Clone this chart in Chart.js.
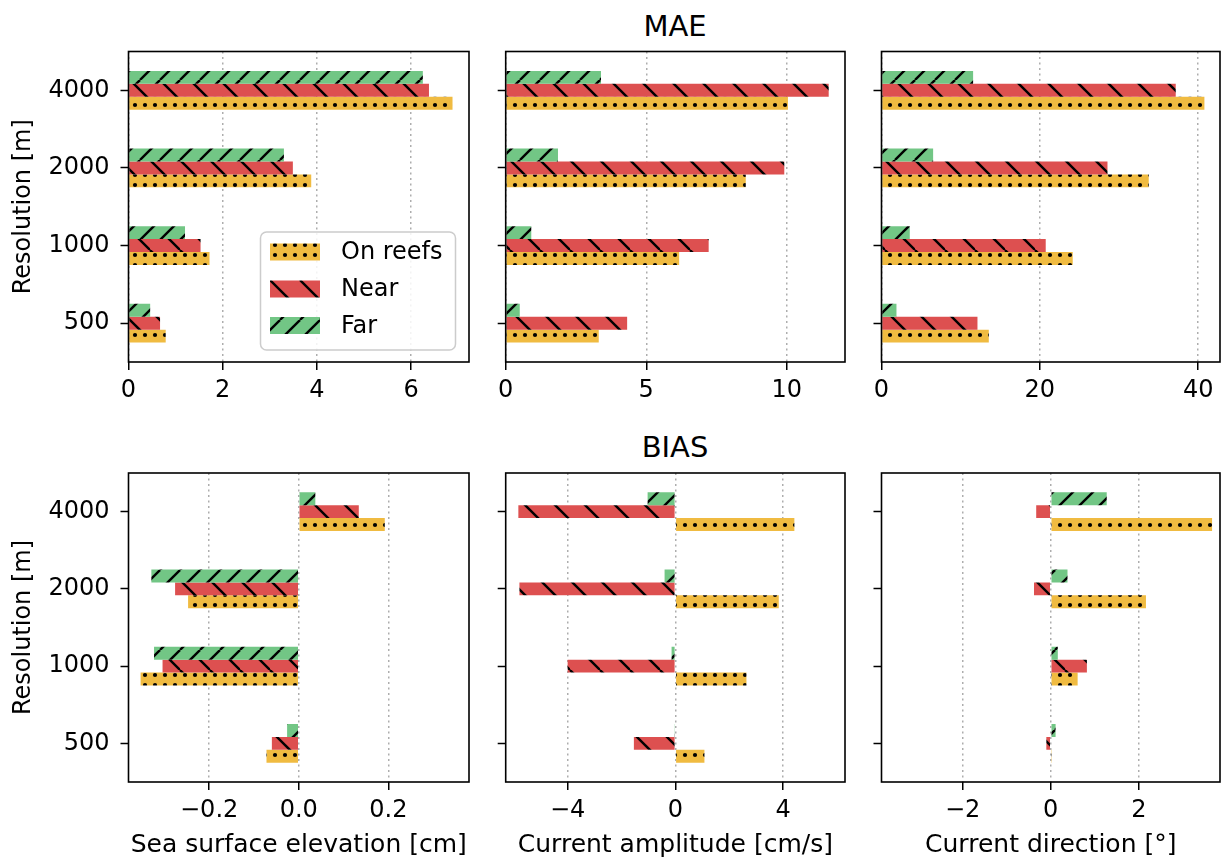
<!DOCTYPE html>
<html><head><meta charset="utf-8">
<script src="https://cdn.jsdelivr.net/npm/chart.js@4.4.1/dist/chart.umd.min.js"></script>
<style>
html,body{margin:0;padding:0;background:#fff;}
body{width:1222px;height:861px;position:relative;overflow:hidden;font-family:"DejaVu Sans",sans-serif;}
canvas{position:absolute;}
.ttl{position:absolute;font-family:"DejaVu Sans",sans-serif;font-size:29px;line-height:29px;color:#000;width:200px;text-align:center;}
</style></head><body>
<div class="ttl" style="left:575px;top:11.5px">MAE</div>
<div class="ttl" style="left:575px;top:432.5px">BIAS</div>
<canvas id="c0" width="480" height="380" style="left:0;top:40px"></canvas>
<canvas id="c1" width="375" height="380" style="left:480px;top:40px"></canvas>
<canvas id="c2" width="367" height="380" style="left:855px;top:40px"></canvas>
<canvas id="c3" width="480" height="431" style="left:0;top:430px"></canvas>
<canvas id="c4" width="375" height="431" style="left:480px;top:430px"></canvas>
<canvas id="c5" width="367" height="431" style="left:855px;top:430px"></canvas>
<script>
// ---- data ----
const categories = ['4000', '2000', '1000', '500'];
const seriesNames = ['On reefs', 'Near', 'Far'];

const maeSseOn   = [6.88, 3.88, 1.72, 0.79];
const maeSseNear = [6.38, 3.49, 1.53, 0.67];
const maeSseFar  = [6.25, 3.30, 1.20, 0.46];

const maeAmpOn   = [10.04, 8.54, 6.17, 3.31];
const maeAmpNear = [11.49, 9.91, 7.22, 4.32];
const maeAmpFar  = [3.39, 1.86, 0.91, 0.50];

const maeDirOn   = [40.78, 33.75, 24.15, 13.55];
const maeDirNear = [37.16, 28.54, 20.74, 12.12];
const maeDirFar  = [11.57, 6.52, 3.57, 1.89];

const biasSseOn   = [0.192, -0.247, -0.353, -0.072];
const biasSseNear = [0.134, -0.276, -0.304, -0.060];
const biasSseFar  = [0.037, -0.329, -0.323, -0.026];

const biasAmpOn   = [4.42, 3.84, 2.64, 1.08];
const biasAmpNear = [-5.83, -5.79, -4.00, -1.54];
const biasAmpFar  = [-1.03, -0.40, -0.14, -0.02];

const biasDirOn   = [3.66, 2.16, 0.61, 0.01];
const biasDirNear = [-0.33, -0.38, 0.82, -0.10];
const biasDirFar  = [1.27, 0.38, 0.16, 0.11];

const ticksMaeSse = [0, 2, 4, 6];
const ticksMaeAmp = [0, 5, 10];
const ticksMaeDir = [0, 20, 40];
const ticksBiasSse = [-0.2, 0, 0.2];
const ticksBiasAmp = [-4, 0, 4];
const ticksBiasDir = [-2, 0, 2];

const xTitles = ['Sea surface elevation [cm]', 'Current amplitude [cm/s]', 'Current direction [°]'];
const yTitle = 'Resolution [m]';

// ---- styles ----
const FONT = '"DejaVu Sans", sans-serif';
const YELLOW = '#f0bb41', RED = '#dd5050', GREEN = '#72c685';

function makePattern(kind, color) {
  const c = document.createElement('canvas');
  const s = kind === 'dots' ? 10 : (kind === 'back' ? 30 : 20);
  c.width = s; c.height = s;
  const g = c.getContext('2d');
  g.fillStyle = color; g.fillRect(0, 0, s, s);
  g.fillStyle = '#000'; g.strokeStyle = '#000'; g.lineWidth = 2.4;
  if (kind === 'dots') {
    g.beginPath(); g.arc(5, 5, 2.1, 0, Math.PI * 2); g.fill();
  } else if (kind === 'back') {
    for (let k = -1; k <= 1; k++) { g.beginPath(); g.moveTo(k * s, 0); g.lineTo(k * s + s, s); g.stroke(); }
  } else {
    for (let k = -1; k <= 1; k++) { g.beginPath(); g.moveTo(k * s, s); g.lineTo(k * s + s, 0); g.stroke(); }
  }
  return g.createPattern(c, 'repeat');
}
const patOn = makePattern('dots', YELLOW);
const patNear = makePattern('back', RED);
const patFar = makePattern('fwd', GREEN);

const spines = {
  id: 'spines',
  afterDraw(chart) {
    const { ctx, chartArea: a } = chart;
    ctx.save(); ctx.strokeStyle = '#000'; ctx.lineWidth = 1.6;
    ctx.strokeRect(a.left, a.top, a.right - a.left, a.bottom - a.top);
    ctx.restore();
  }
};

const legendBox = {
  id: 'legendBox',
  afterDraw(chart) {
    const ctx = chart.ctx;
    const x0 = 260.5, y0 = 192, w = 195, h = 118, r = 6;
    ctx.save();
    ctx.beginPath();
    ctx.moveTo(x0 + r, y0); ctx.lineTo(x0 + w - r, y0); ctx.arcTo(x0 + w, y0, x0 + w, y0 + r, r);
    ctx.lineTo(x0 + w, y0 + h - r); ctx.arcTo(x0 + w, y0 + h, x0 + w - r, y0 + h, r);
    ctx.lineTo(x0 + r, y0 + h); ctx.arcTo(x0, y0 + h, x0, y0 + h - r, r);
    ctx.lineTo(x0, y0 + r); ctx.arcTo(x0, y0, x0 + r, y0, r); ctx.closePath();
    ctx.fillStyle = 'rgba(255,255,255,0.85)'; ctx.fill();
    ctx.strokeStyle = '#cccccc'; ctx.lineWidth = 1.5; ctx.stroke();
    const pats = [patOn, patNear, patFar];
    const ys = [212, 249, 285.5];
    ctx.font = '24px ' + FONT; ctx.textBaseline = 'middle'; ctx.fillStyle = '#000';
    for (let i = 0; i < 3; i++) {
      ctx.fillStyle = pats[i];
      ctx.fillRect(270, ys[i] - 8.5, 50, 17);
      ctx.fillStyle = '#000';
      ctx.fillText(seriesNames[i], 341, ys[i] + 1);
    }
    ctx.restore();
  }
};

function fmt(dec) {
  return v => (v < 0 ? '\u2212' : '') + Math.abs(v).toFixed(dec);
}

function makeChart(id, on, near, far, xmin, xmax, tickVals, dec, opts) {
  const ctx = document.getElementById(id).getContext('2d');
  const plugins = [spines];
  if (opts.legend) plugins.push(legendBox);
  return new Chart(ctx, {
    type: 'bar',
    data: {
      labels: categories,
      datasets: [
        { label: seriesNames[2], data: far, backgroundColor: patFar },
        { label: seriesNames[1], data: near, backgroundColor: patNear },
        { label: seriesNames[0], data: on, backgroundColor: patOn }
      ]
    },
    options: {
      indexAxis: 'y',
      responsive: false,
      animation: false,
      devicePixelRatio: 1,
      datasets: { bar: { categoryPercentage: 0.5, barPercentage: 1.0, borderWidth: 0 } },
      layout: { padding: { top: opts.padTop, right: opts.padRight, left: 0, bottom: 0 } },
      plugins: { legend: { display: false }, tooltip: { enabled: false }, title: { display: false } },
      scales: {
        x: {
          type: 'linear', min: xmin, max: xmax,
          afterBuildTicks: s => { s.ticks = tickVals.map(v => ({ value: v })); },
          afterFit: s => { s.height = opts.xHeight; s.paddingLeft = 0; s.paddingRight = 0; },
          grid: { color: '#adadad', lineWidth: 1.5, drawTicks: true, tickLength: 8, tickColor: '#000', tickWidth: 1.5 },
          border: { display: false, dash: [2, 3.5] },
          ticks: { font: { family: FONT, size: 24 }, color: '#000', padding: 6, maxRotation: 0, autoSkip: false, callback: fmt(dec) },
          title: { display: !!opts.xTitle, text: opts.xTitle || '', font: { family: FONT, size: 25 }, color: '#000', padding: { top: 0, bottom: 1 } }
        },
        y: {
          type: 'category',
          afterFit: s => { s.width = opts.yWidth; s.paddingTop = 0; s.paddingBottom = 0; },
          grid: { drawOnChartArea: false, drawTicks: true, tickLength: 8, tickColor: '#000', tickWidth: 1.5, offset: false },
          border: { display: false },
          ticks: { display: !!opts.yLabels, font: { family: FONT, size: 24 }, color: '#000', padding: 11 },
          title: { display: !!opts.yLabels, text: yTitle, font: { family: FONT, size: 24 }, color: '#000', padding: { top: 9.5, bottom: 0 } }
        }
      }
    },
    plugins: plugins
  });
}

const rowTop = { padTop: 11.5, xHeight: 58 };
const rowBot = { padTop: 43, xHeight: 79 };
const colA = { yWidth: 128.5, padRight: 11, yLabels: true };
const colB = { yWidth: 25.7, padRight: 10 };
const colC = { yWidth: 26.5, padRight: 2 };

makeChart('c0', maeSseOn, maeSseNear, maeSseFar, 0, 7.23, ticksMaeSse, 0, Object.assign({}, rowTop, colA, { legend: true }));
makeChart('c1', maeAmpOn, maeAmpNear, maeAmpFar, 0, 12.07, ticksMaeAmp, 0, Object.assign({}, rowTop, colB));
makeChart('c2', maeDirOn, maeDirNear, maeDirFar, 0, 42.75, ticksMaeDir, 0, Object.assign({}, rowTop, colC));
makeChart('c3', biasSseOn, biasSseNear, biasSseFar, -0.38, 0.38, ticksBiasSse, 1, Object.assign({}, rowBot, colA, { xTitle: xTitles[0] }));
makeChart('c4', biasAmpOn, biasAmpNear, biasAmpFar, -6.3, 6.3, ticksBiasAmp, 0, Object.assign({}, rowBot, colB, { xTitle: xTitles[1] }));
makeChart('c5', biasDirOn, biasDirNear, biasDirFar, -3.84, 3.84, ticksBiasDir, 0, Object.assign({}, rowBot, colC, { xTitle: xTitles[2] }));
</script>
</body></html>
